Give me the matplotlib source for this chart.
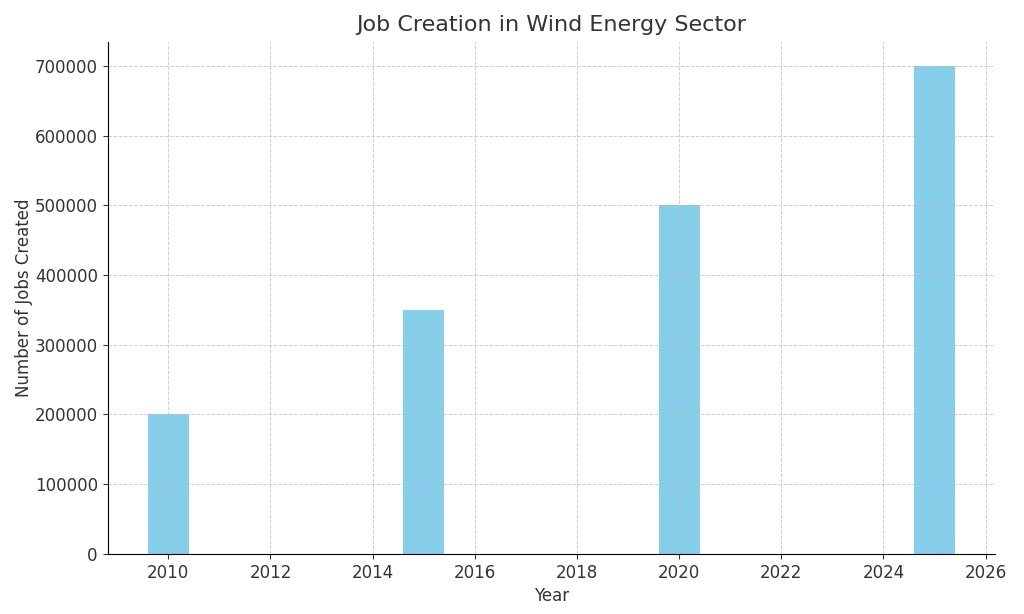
import matplotlib
matplotlib.use("Agg")
import matplotlib.pyplot as plt

## Job creation data
#
years = [2010, 2015, 2020, 2025]
jobs = [200000, 350000, 500000, 700000]

fig = plt.figure(figsize=(10.24, 6.14), dpi=100)
ax = fig.add_axes([0.105, 0.098, 0.867, 0.834])

# grid drawn over the bars, like the default axisbelow='line'
ax.bar(years, jobs, color='skyblue', width=0.8)
ax.grid(True, linestyle='--', color='#bbbbbb', linewidth=0.7, alpha=0.7)

ax.set_title('Job Creation in Wind Energy Sector', fontsize=16, color='#333333', pad=8)
ax.set_xlabel('Year', fontsize=12, color='#333333')
ax.set_ylabel('Number of Jobs Created', fontsize=12, color='#333333', labelpad=1)
ax.tick_params(labelsize=12, colors='#333333')
ax.spines['top'].set_visible(False)
ax.spines['right'].set_visible(False)

fig.savefig('out.png', dpi=100)
